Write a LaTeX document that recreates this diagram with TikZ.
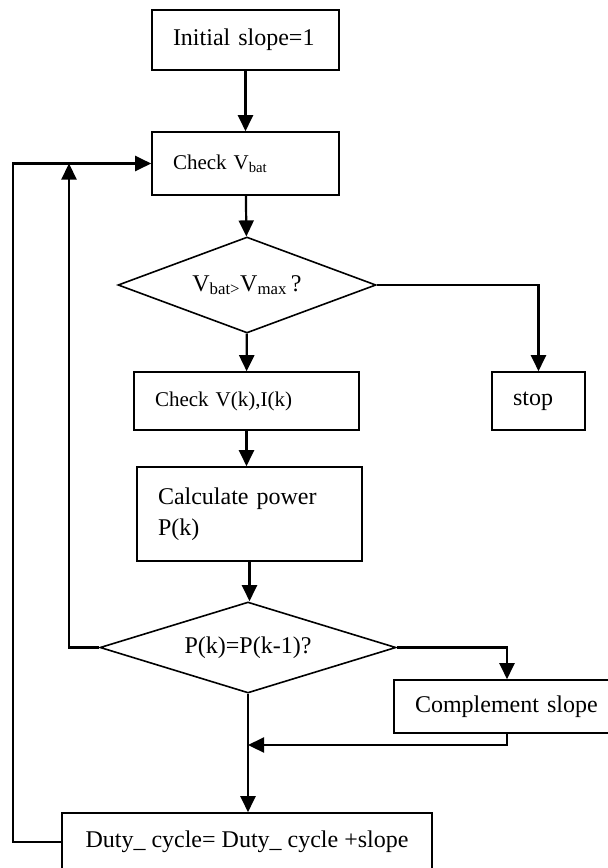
\documentclass[tikz,border=0pt]{standalone}
\usepackage{fontspec}
\setmainfont{Liberation Serif}
\usetikzlibrary{arrows.meta,shapes.geometric}

\begin{document}
\begin{tikzpicture}[x=1pt,y=-1pt]
                \tikzset{box/.style={draw, line width=1.6pt, rectangle, align=left, inner xsep=21pt, inner ysep=0pt,
                font=\fontsize{24}{31}\selectfont},
                smallbox/.style={box, font=\fontsize{21}{26}\selectfont},
                decision/.style={draw, line width=1.6pt, diamond, aspect=2.7, inner sep=0pt,
                font=\fontsize{24}{28}\selectfont},
                flow/.style={line width=2.2pt, -{Triangle[length=16pt,width=15pt]}},
                line/.style={line width=2.2pt}}
                \useasboundingbox (0,0) rectangle (608,868);

                \node[box, text width=145pt, minimum height=60pt] (init) at (245.5,40) {Initial slope=1};
                \node[smallbox, text width=145pt, minimum height=63pt] (chk) at (245.5,163.5) {Check V\textsubscript{bat}};
                \node[decision, minimum width=258pt, minimum height=96pt] (vmax) at (247,285) {V\textsubscript{bat>}V\textsubscript{max}\,?};
                \node[smallbox, text width=183pt, minimum height=58pt] (chkvi) at (246.5,401) {Check V(k),I(k)};
                \node[box, text width=51pt, minimum height=58pt] (stop) at (538.5,401) {stop};
                \node[box, text width=183pt, minimum height=94pt] (calc) at (249.5,514) {Calculate power\\P(k)};
                \node[decision, minimum width=296pt, minimum height=91pt] (peq) at (248,647.5) {P(k)=P(k-1)?};
                \node[box, text width=184pt, minimum height=53pt] (comp) at (507,706.5) {Complement slope};
                \node[box, align=center, minimum width=370pt, minimum height=58pt] (duty) at (247,842) {Duty\_ cycle= Duty\_ cycle +slope};
                \coordinate (join) at (248,745);
                \coordinate (inner) at (69,163.5);
                \coordinate (outer) at (13,842);

                \draw[flow] (init) -- (chk);
                \draw[flow] (chk) -- (vmax);
                \draw[flow] (vmax) -- (chkvi);
                \draw[flow] (vmax.east) -| (stop.north);
                \draw[flow] (chkvi.south) -- (chkvi.south |- calc.north);
                \draw[flow] (calc.south) -- (calc.south |- peq.north);
                \draw[flow] (peq.east) -| (comp.north);
                \draw[flow] (comp.south) |- (join);
                \draw[flow] (peq.south) -- (peq.south |- duty.north);
                \draw[flow] (peq.west) -| (inner);
                \draw[flow] (duty.west) -- (outer) |- (chk.west);
            \end{tikzpicture}
\end{document}
